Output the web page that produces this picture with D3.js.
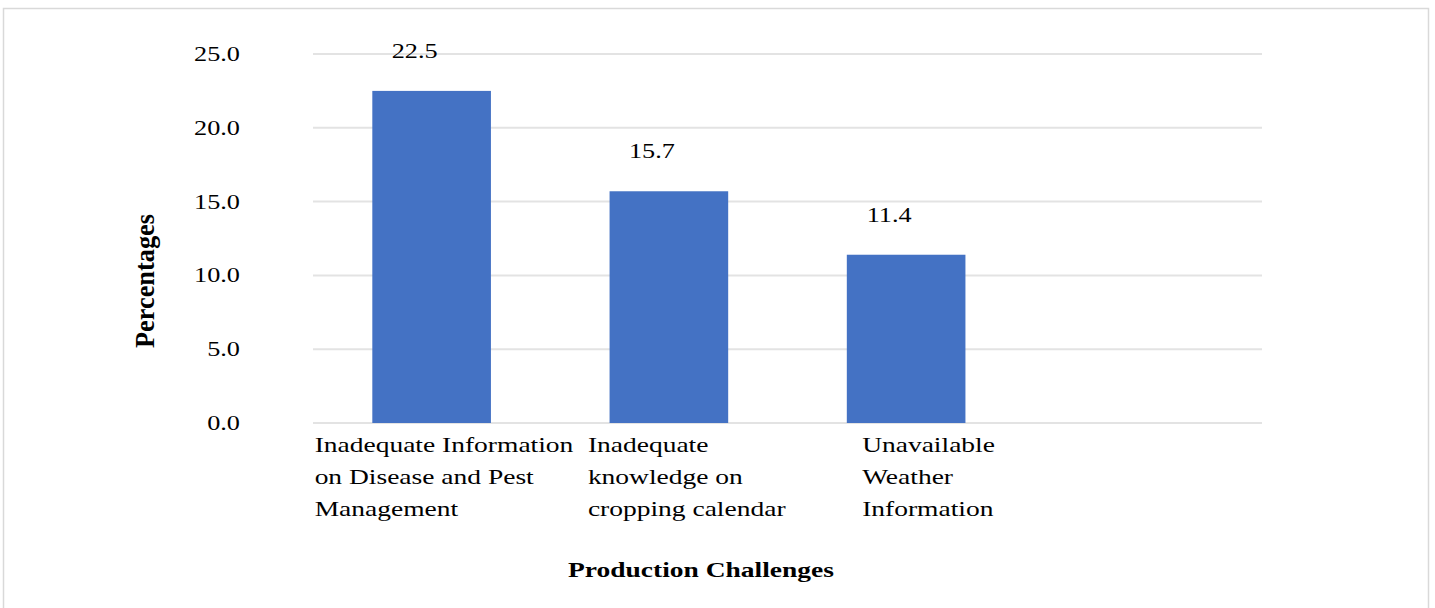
<!DOCTYPE html>
<html lang="en">
<head>
  <meta charset="UTF-8">
  <title>Production Challenges</title>
  <script src="https://d3js.org/d3.v7.min.js"></script>
  <style>
    body { margin: 0; background: #fff; }
    text { font-family: "Liberation Serif", "Times New Roman", serif; fill: #000; }
  </style>
</head>
<body>
  <script>
    // data
    const categories = [
      ["Inadequate Information", "on Disease and Pest", "Management"],
      ["Inadequate", "knowledge on", "cropping calendar"],
      ["Unavailable", "Weather", "Information"],
      [] // empty 4th slot in the original
    ];
    const values = [22.5, 15.7, 11.4];
    const yTicks = [0, 5, 10, 15, 20, 25];

    const width = 1435, height = 608;
    const plot = { left: 313, right: 1262, top: 54, bottom: 423 };
    const sx = 1.25; // the original picture is stretched horizontally

    const svg = d3.select("body").append("svg")
      .attr("width", width)
      .attr("height", height);

    // outer frame
    svg.append("rect")
      .attr("x", 3.5).attr("y", 8.5)
      .attr("width", 1425).attr("height", 620)
      .attr("fill", "none")
      .attr("stroke", "#d9d9d9")
      .attr("stroke-width", 1.5);

    const x = d3.scaleBand()
      .domain(d3.range(categories.length))
      .range([plot.left, plot.right])
      .paddingInner(0.5)
      .paddingOuter(0.25);

    const y = d3.scaleLinear()
      .domain([0, 25])
      .range([plot.bottom, plot.top]);

    // gridlines
    svg.append("g")
      .selectAll("line")
      .data(yTicks)
      .join("line")
      .attr("x1", plot.left).attr("x2", plot.right)
      .attr("y1", d => y(d)).attr("y2", d => y(d))
      .attr("stroke", "#e3e3e3")
      .attr("stroke-width", 2);

    // y tick labels
    svg.append("g")
      .selectAll("text")
      .data(yTicks)
      .join("text")
      .attr("transform", d => `translate(240, ${y(d) + 7}) scale(${sx}, 1)`)
      .attr("text-anchor", "end")
      .attr("font-size", 21)
      .text(d => d.toFixed(1));

    // bars
    svg.append("g")
      .selectAll("rect")
      .data(values)
      .join("rect")
      .attr("x", (d, i) => x(i))
      .attr("width", x.bandwidth())
      .attr("y", d => y(d))
      .attr("height", d => y(0) - y(d))
      .attr("fill", "#4472c4");

    // value labels
    svg.append("g")
      .selectAll("text")
      .data(values)
      .join("text")
      .attr("transform", (d, i) =>
        `translate(${x(i) + x.bandwidth() / 2 - 17}, ${y(d) - 33}) scale(${sx}, 1)`)
      .attr("text-anchor", "middle")
      .attr("font-size", 21)
      .text(d => d.toFixed(1));

    // category labels, left aligned blocks
    const labelOffsets = [-117, -81, -44];
    const catG = svg.append("g")
      .selectAll("text")
      .data(categories.slice(0, 3))
      .join("text")
      .attr("font-size", 22)
      .attr("transform", (d, i) =>
        `translate(${x(i) + x.bandwidth() / 2 + labelOffsets[i]}, ${plot.bottom + 29}) scale(${sx}, 1)`);

    catG.selectAll("tspan")
      .data(d => d)
      .join("tspan")
      .attr("x", 0)
      .attr("y", (d, j) => j * 32)
      .text(d => d);

    // axis titles
    svg.append("text")
      .attr("transform", `translate(154, 281) rotate(-90) scale(1, ${sx})`)
      .attr("text-anchor", "middle")
      .attr("font-size", 21)
      .attr("font-weight", "bold")
      .attr("textLength", 134)
      .attr("lengthAdjust", "spacingAndGlyphs")
      .text("Percentages");

    svg.append("text")
      .attr("transform", `translate(701, 577) scale(${sx}, 1)`)
      .attr("text-anchor", "middle")
      .attr("font-size", 22)
      .attr("font-weight", "bold")
      .text("Production Challenges");
  </script>
</body>
</html>
